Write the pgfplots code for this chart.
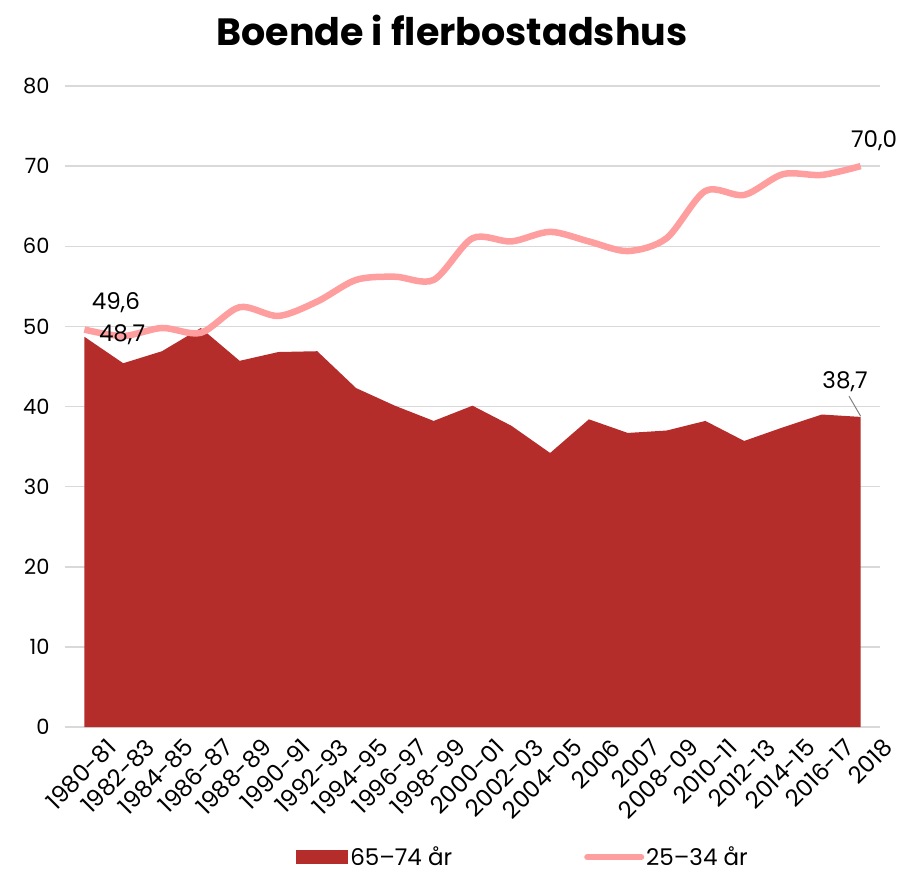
\documentclass[border=0pt]{standalone}
\usepackage{fontspec}
\setmainfont{Poppins}
\usepackage{pgfplots}
\pgfplotsset{compat=1.18}
\definecolor{darkred}{HTML}{B52D2A}
\definecolor{pinkline}{HTML}{FF9E9E}
\definecolor{gridgray}{HTML}{D9D9D9}
\begin{document}
\begin{tikzpicture}
\path[use as bounding box] (-65pt,-141pt) rectangle (836pt,727pt);
\begin{axis}[
  at={(0pt,0pt)}, anchor=south west,
  scale only axis, width=815pt, height=641pt,
  xmin=-0.5, xmax=20.5, ymin=0, ymax=80,
  axis line style={draw=none},
  ytick={0,10,...,80},
  xtick={0,...,20},
  xticklabels={1980-81,1982-83,1984-85,1986-87,1988-89,1990-91,1992-93,1994-95,1996-97,1998-99,2000-01,2002-03,2004-05,2006,2007,2008-09,2010-11,2012-13,2014-15,2016-17,2018},
  major tick length=0pt,
  ymajorgrids, grid style={gridgray, line width=1.5pt},
  /pgf/number format/assume math mode=true,
  yticklabel style={font=\fontsize{21}{24}\selectfont, anchor=east, xshift=-12pt},
  xticklabel style={font=\fontsize{23.5}{26}\selectfont, rotate=45, anchor=east, inner sep=0pt, yshift=-31pt, xshift=8pt},
  legend columns=2,
  legend style={at={(0.562,-0.203)}, anchor=center, draw=none, font=\fontsize{23}{26}\selectfont,
    /tikz/every even column/.append style={column sep=130pt}},
  clip=false,
]
\addplot[fill=darkred, draw=none, area legend,
  legend image code/.code={\fill[darkred] (-4pt,-7pt) rectangle (48pt,7pt);}]
  coordinates {(0,48.7)(1,45.4)(2,46.9)(3,49.8)(4,45.7)(5,46.8)(6,46.9)(7,42.3)(8,40.1)(9,38.2)(10,40.1)(11,37.6)(12,34.2)(13,38.4)(14,36.7)(15,37.0)(16,38.2)(17,35.7)(18,37.4)(19,39.0)(20,38.7)} \closedcycle;
\addlegendentry{65–74 år}
\addplot[pinkline, line width=6.5pt, smooth, tension=0.5,
  legend image code/.code={\draw[pinkline, line width=6pt, line cap=round] (0pt,0pt) -- (54pt,0pt);}]
  coordinates {(0,49.6)(1,48.8)(2,49.8)(3,49.2)(4,52.4)(5,51.3)(6,53.1)(7,55.8)(8,56.2)(9,55.8)(10,61.0)(11,60.6)(12,61.8)(13,60.6)(14,59.4)(15,61.0)(16,66.9)(17,66.4)(18,69.0)(19,68.9)(20,70.0)};
\addlegendentry{25–34 år}
\draw[gray, line width=1pt] (axis cs:19.7,41.3) -- (axis cs:20,38.8);
\node[font=\fontsize{23}{26}\selectfont] at (axis cs:0.81,52.9) {49,6};
\node[font=\fontsize{23}{26}\selectfont] at (axis cs:0.97,48.9) {48,7};
\node[font=\fontsize{23}{26}\selectfont] at (axis cs:20.35,73.2) {70,0};
\node[font=\fontsize{23}{26}\selectfont] at (axis cs:19.6,43.1) {38,7};
\end{axis}
\node[font=\fontsize{38}{42}\selectfont\bfseries] at (387pt,697pt) {Boende i flerbostadshus};
\end{tikzpicture}
\end{document}
